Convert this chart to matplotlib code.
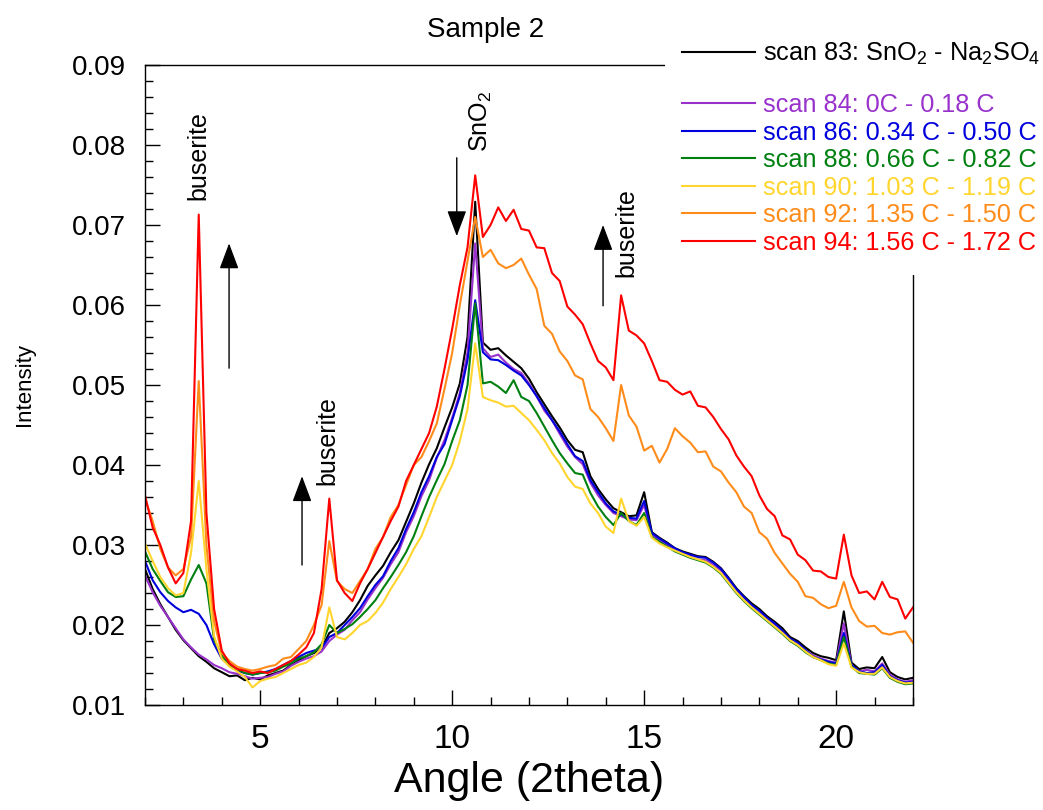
import matplotlib
matplotlib.use("Agg")
import matplotlib.pyplot as plt
from matplotlib.patches import Rectangle
from matplotlib.ticker import MultipleLocator
import numpy as np

plt.rcParams['font.family'] = ['Liberation Sans', 'DejaVu Sans']
plt.rcParams['mathtext.fontset'] = 'custom'
plt.rcParams['mathtext.rm'] = 'Liberation Sans'
plt.rcParams['mathtext.it'] = 'Liberation Sans:italic'

narrow = ['Liberation Sans Narrow', 'Liberation Sans', 'DejaVu Sans']

# 2theta grid, 0.2 deg steps
angle = np.round(np.arange(2.0, 22.001, 0.2), 1)

scan83 = [0.0270, 0.0245, 0.0226, 0.0210, 0.0194, 0.0181, 0.0171, 0.0161, 0.0154, 0.0146,
          0.0141, 0.0136, 0.0137, 0.0131, 0.0134, 0.0132, 0.0137, 0.0140, 0.0143, 0.0150,
          0.0156, 0.0161, 0.0165, 0.0171, 0.0190, 0.0196, 0.0204, 0.0216, 0.0231, 0.0249,
          0.0262, 0.0274, 0.0291, 0.0306, 0.0329, 0.0352, 0.0378, 0.0401, 0.0421, 0.0447,
          0.0472, 0.0502, 0.0560, 0.0729, 0.0553, 0.0544, 0.0546, 0.0537, 0.0529, 0.0521,
          0.0508, 0.0491, 0.0476, 0.0461, 0.0447, 0.0431, 0.0419, 0.0416, 0.0386, 0.0370,
          0.0357, 0.0346, 0.0341, 0.0336, 0.0337, 0.0366, 0.0316, 0.0309, 0.0303, 0.0296,
          0.0292, 0.0289, 0.0286, 0.0285, 0.0279, 0.0271, 0.0259, 0.0246, 0.0236, 0.0227,
          0.0220, 0.0211, 0.0204, 0.0196, 0.0185, 0.0180, 0.0172, 0.0165, 0.0161, 0.0159,
          0.0156, 0.0217, 0.0153, 0.0145, 0.0147, 0.0146, 0.0160, 0.0141, 0.0135, 0.0132,
          0.0134]

scan84 = [0.0262, 0.0241, 0.0224, 0.0210, 0.0196, 0.0182, 0.0172, 0.0163, 0.0157, 0.0150,
          0.0146, 0.0141, 0.0139, 0.0136, 0.0133, 0.0134, 0.0135, 0.0139, 0.0142, 0.0149,
          0.0154, 0.0158, 0.0161, 0.0167, 0.0180, 0.0188, 0.0194, 0.0206, 0.0216, 0.0232,
          0.0246, 0.0259, 0.0276, 0.0291, 0.0316, 0.0336, 0.0361, 0.0381, 0.0409, 0.0431,
          0.0459, 0.0490, 0.0541, 0.0677, 0.0546, 0.0535, 0.0538, 0.0528, 0.0520, 0.0515,
          0.0502, 0.0486, 0.0468, 0.0456, 0.0439, 0.0423, 0.0410, 0.0401, 0.0378, 0.0362,
          0.0350, 0.0340, 0.0336, 0.0332, 0.0331, 0.0350, 0.0313, 0.0306, 0.0300, 0.0293,
          0.0289, 0.0286, 0.0282, 0.0281, 0.0275, 0.0268, 0.0256, 0.0243, 0.0233, 0.0223,
          0.0215, 0.0207, 0.0200, 0.0192, 0.0182, 0.0176, 0.0168, 0.0162, 0.0158, 0.0155,
          0.0153, 0.0202, 0.0150, 0.0142, 0.0144, 0.0142, 0.0152, 0.0138, 0.0132, 0.0129,
          0.0131]

scan86 = [0.0280, 0.0256, 0.0241, 0.0230, 0.0222, 0.0216, 0.0219, 0.0214, 0.0200, 0.0176,
          0.0158, 0.0150, 0.0143, 0.0140, 0.0138, 0.0140, 0.0142, 0.0145, 0.0150, 0.0155,
          0.0160, 0.0165, 0.0168, 0.0171, 0.0185, 0.0190, 0.0200, 0.0210, 0.0221, 0.0236,
          0.0250, 0.0261, 0.0280, 0.0296, 0.0320, 0.0341, 0.0366, 0.0386, 0.0410, 0.0426,
          0.0456, 0.0486, 0.0531, 0.0606, 0.0541, 0.0532, 0.0531, 0.0525, 0.0518, 0.0512,
          0.0500, 0.0486, 0.0471, 0.0456, 0.0442, 0.0426, 0.0411, 0.0405, 0.0381, 0.0366,
          0.0352, 0.0342, 0.0338, 0.0334, 0.0333, 0.0355, 0.0315, 0.0308, 0.0302, 0.0296,
          0.0291, 0.0288, 0.0285, 0.0284, 0.0278, 0.0270, 0.0258, 0.0245, 0.0235, 0.0225,
          0.0218, 0.0209, 0.0202, 0.0193, 0.0183, 0.0178, 0.0169, 0.0160, 0.0157, 0.0154,
          0.0152, 0.0190, 0.0150, 0.0142, 0.0140, 0.0141, 0.0150, 0.0136, 0.0131, 0.0128,
          0.0129]

scan88 = [0.0292, 0.0270, 0.0255, 0.0241, 0.0235, 0.0236, 0.0257, 0.0275, 0.0252, 0.0182,
          0.0162, 0.0150, 0.0145, 0.0140, 0.0138, 0.0140, 0.0141, 0.0143, 0.0148, 0.0152,
          0.0158, 0.0161, 0.0166, 0.0176, 0.0200, 0.0190, 0.0195, 0.0201, 0.0210, 0.0220,
          0.0231, 0.0246, 0.0260, 0.0275, 0.0291, 0.0311, 0.0336, 0.0360, 0.0381, 0.0401,
          0.0430, 0.0456, 0.0500, 0.0602, 0.0502, 0.0504, 0.0498, 0.0490, 0.0506, 0.0485,
          0.0480, 0.0465, 0.0448, 0.0431, 0.0415, 0.0402, 0.0390, 0.0388, 0.0365, 0.0348,
          0.0335, 0.0325, 0.0340, 0.0330, 0.0325, 0.0340, 0.0310, 0.0304, 0.0298, 0.0292,
          0.0288, 0.0284, 0.0281, 0.0278, 0.0272, 0.0264, 0.0252, 0.0240, 0.0230, 0.0221,
          0.0213, 0.0205, 0.0197, 0.0189, 0.0180, 0.0174, 0.0166, 0.0160, 0.0156, 0.0152,
          0.0150, 0.0185, 0.0148, 0.0140, 0.0139, 0.0138, 0.0146, 0.0134, 0.0129, 0.0126,
          0.0127]

scan90 = [0.0302, 0.0280, 0.0260, 0.0246, 0.0237, 0.0240, 0.0290, 0.0380, 0.0270, 0.0186,
          0.0158, 0.0148, 0.0142, 0.0135, 0.0122, 0.0130, 0.0133, 0.0135, 0.0140, 0.0145,
          0.0150, 0.0153, 0.0160, 0.0172, 0.0222, 0.0185, 0.0182, 0.0190, 0.0200, 0.0205,
          0.0215, 0.0228, 0.0245, 0.0260, 0.0276, 0.0295, 0.0311, 0.0335, 0.0360, 0.0380,
          0.0400, 0.0430, 0.0470, 0.0552, 0.0485, 0.0481, 0.0478, 0.0473, 0.0474, 0.0465,
          0.0456, 0.0444, 0.0431, 0.0415, 0.0402, 0.0385, 0.0373, 0.0370, 0.0352, 0.0340,
          0.0323, 0.0315, 0.0358, 0.0330, 0.0324, 0.0335, 0.0309, 0.0302, 0.0297, 0.0293,
          0.0289, 0.0285, 0.0282, 0.0279, 0.0273, 0.0265, 0.0253, 0.0241, 0.0231, 0.0222,
          0.0214, 0.0206, 0.0198, 0.0190, 0.0181, 0.0175, 0.0167, 0.0160, 0.0156, 0.0151,
          0.0149, 0.0177, 0.0147, 0.0141, 0.0139, 0.0139, 0.0147, 0.0135, 0.0130, 0.0127,
          0.0128]

scan92 = [0.0358, 0.0330, 0.0295, 0.0272, 0.0262, 0.0270, 0.0310, 0.0505, 0.0300, 0.0205,
          0.0165, 0.0155, 0.0148, 0.0145, 0.0143, 0.0145, 0.0148, 0.0150, 0.0158, 0.0160,
          0.0170, 0.0180, 0.0200, 0.0225, 0.0305, 0.0255, 0.0245, 0.0240, 0.0255, 0.0270,
          0.0295, 0.0310, 0.0335, 0.0350, 0.0375, 0.0400, 0.0410, 0.0430, 0.0452, 0.0495,
          0.0540, 0.0600, 0.0655, 0.0710, 0.0660, 0.0669, 0.0652, 0.0646, 0.0650, 0.0658,
          0.0638, 0.0620, 0.0574, 0.0564, 0.0542, 0.0530, 0.0512, 0.0507, 0.0470, 0.0460,
          0.0446, 0.0430, 0.0500, 0.0462, 0.0448, 0.0418, 0.0424, 0.0403, 0.0420, 0.0446,
          0.0436, 0.0428, 0.0416, 0.0417, 0.0398, 0.0392, 0.0378, 0.0366, 0.0348, 0.0340,
          0.0316, 0.0308, 0.0290, 0.0277, 0.0264, 0.0254, 0.0236, 0.0234, 0.0226, 0.0221,
          0.0224, 0.0254, 0.0222, 0.0205, 0.0198, 0.0199, 0.0190, 0.0188, 0.0191, 0.0192,
          0.0178]

scan94 = [0.0362, 0.0322, 0.0300, 0.0272, 0.0252, 0.0265, 0.0330, 0.0713, 0.0340, 0.0220,
          0.0168, 0.0152, 0.0145, 0.0143, 0.0140, 0.0142, 0.0140, 0.0145, 0.0150, 0.0155,
          0.0163, 0.0172, 0.0190, 0.0245, 0.0358, 0.0256, 0.0240, 0.0230, 0.0252, 0.0270,
          0.0290, 0.0310, 0.0330, 0.0348, 0.0380, 0.0400, 0.0420, 0.0440, 0.0473, 0.0520,
          0.0570, 0.0625, 0.0672, 0.0762, 0.0685, 0.0700, 0.0722, 0.0705, 0.0719, 0.0695,
          0.0693, 0.0672, 0.0671, 0.0640, 0.0630, 0.0598, 0.0588, 0.0576, 0.0552, 0.0530,
          0.0522, 0.0506, 0.0612, 0.0568, 0.0562, 0.0552, 0.0530, 0.0506, 0.0504, 0.0494,
          0.0488, 0.0492, 0.0474, 0.0472, 0.0460, 0.0445, 0.0432, 0.0412, 0.0398, 0.0386,
          0.0362, 0.0345, 0.0336, 0.0312, 0.0307, 0.0288, 0.0281, 0.0268, 0.0267, 0.0260,
          0.0258, 0.0313, 0.0262, 0.0240, 0.0242, 0.0232, 0.0254, 0.0235, 0.0232, 0.0208,
          0.0222]

series = [scan83, scan84, scan86, scan88, scan90, scan92, scan94]
labels = ['scan 83: SnO$_2$ - Na$_2$SO$_4$',
          'scan 84: 0C - 0.18 C',
          'scan 86: 0.34 C - 0.50 C',
          'scan 88: 0.66 C - 0.82 C',
          'scan 90: 1.03 C - 1.19 C',
          'scan 92: 1.35 C - 1.50 C',
          'scan 94: 1.56 C - 1.72 C']
colors = ['#000000', '#9932CC', '#0000DD', '#008010', '#FFD52E', '#FF8C1A', '#FF0000']

fig = plt.figure(figsize=(10.43, 8.10), dpi=100)
ax = fig.add_axes([0.139, 0.1296, 0.7363, 0.7902])

for y, lab, c in zip(series, labels, colors):
    ax.plot(angle, y, color=c, lw=1.5, label=lab)

ax.set_xlim(2, 22)
ax.set_ylim(0.01, 0.09)
ax.xaxis.set_major_locator(MultipleLocator(5))
ax.xaxis.set_minor_locator(MultipleLocator(1))
ax.yaxis.set_major_locator(MultipleLocator(0.01))
ax.yaxis.set_minor_locator(MultipleLocator(0.002))
ax.yaxis.set_major_formatter(plt.FormatStrFormatter('%.2f'))
ax.tick_params(which='major', direction='in', length=11, width=1, pad=14)
ax.tick_params(which='minor', direction='in', length=6, width=1)
ax.tick_params(axis='y', labelsize=20)
ax.tick_params(axis='x', labelsize=24)
for t in ax.get_xticklabels():
    t.set_family(narrow)
for s in ax.spines.values():
    s.set_linewidth(1)

ax.set_xlabel('Angle (2theta)', fontsize=31, family=narrow)
ax.xaxis.set_label_coords(0.5, -0.088)
ax.set_ylabel('Intensity', fontsize=16, family=narrow)
ax.yaxis.set_label_coords(-0.143, 0.5)

fig.text(486 / 1043, 1 - 30 / 810, 'Sample 2', fontsize=20, ha='center', va='center')

# peak labels and arrows
txt = dict(fontsize=18, rotation=90, ha='center', va='bottom')
ax.text(3.4, 0.0731, 'buserite', **txt)
ax.text(6.74, 0.0375, 'buserite', **txt)
ax.text(10.75, 0.0791, 'SnO$_2$', **txt)
ax.text(14.55, 0.0635, 'buserite', **txt)

arr = dict(arrowstyle='-|>,head_length=0.8,head_width=0.3', mutation_scale=20,
           color='black', lw=1, shrinkA=0, shrinkB=0)
ax.annotate('', xy=(4.19, 0.0677), xytext=(4.19, 0.0521), arrowprops=arr)
ax.annotate('', xy=(6.09, 0.0386), xytext=(6.09, 0.0275), arrowprops=arr)
ax.annotate('', xy=(10.12, 0.0686), xytext=(10.12, 0.0784), arrowprops=arr)
ax.annotate('', xy=(13.93, 0.0700), xytext=(13.93, 0.0599), arrowprops=arr)

# white legend area covering the top-right frame
fig.add_artist(Rectangle((665 / 1043, 1 - 275 / 810), 0.4, 0.3, transform=fig.transFigure,
                         facecolor='white', edgecolor='none', zorder=3))
handles, labs = ax.get_legend_handles_labels()
leg_kw = dict(loc='upper left', frameon=False, fontsize=18.2, handlelength=2.9,
              handletextpad=0.3, labelspacing=0.14, borderpad=0, borderaxespad=0,
              labelcolor='linecolor')
fig.legend(handles[:1], labs[:1], bbox_to_anchor=(682 / 1043, 1 - 41 / 810), **leg_kw)
fig.legend(handles[1:], labs[1:], bbox_to_anchor=(682 / 1043, 1 - 93 / 810), **leg_kw)

fig.savefig('out.png', dpi=100)
